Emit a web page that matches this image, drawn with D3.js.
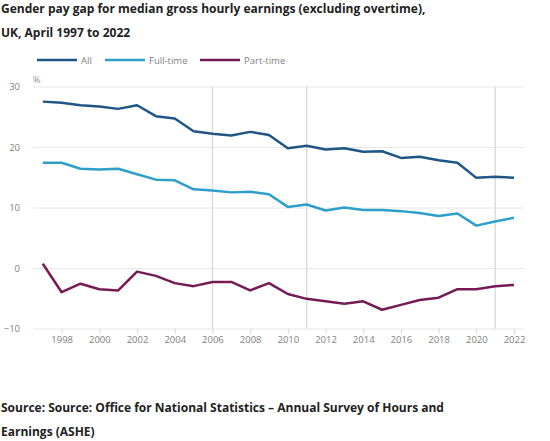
<!DOCTYPE html>
<html>
<head>
<meta charset="utf-8">
<script src="https://cdn.jsdelivr.net/npm/d3@7"></script>
<style>
  html, body { margin: 0; padding: 0; background: #fff; }
  svg { display: block; font-family: "Open Sans", sans-serif; }
</style>
</head>
<body>
<svg id="chart" width="550" height="441"></svg>
<script>
const years = d3.range(1997, 2023);
const allValues = [27.5, 27.3, 26.9, 26.7, 26.3, 26.9, 25.1, 24.7, 22.6, 22.2, 21.9, 22.5, 22.0, 19.8, 20.2, 19.6, 19.8, 19.2, 19.3, 18.2, 18.4, 17.8, 17.4, 14.9, 15.1, 14.9];
const fullTimeValues = [17.4, 17.4, 16.4, 16.3, 16.4, 15.5, 14.6, 14.5, 13.0, 12.8, 12.5, 12.6, 12.2, 10.1, 10.5, 9.5, 10.0, 9.6, 9.6, 9.4, 9.1, 8.6, 9.0, 7.0, 7.7, 8.3];
const partTimeValues = [0.7, -4.0, -2.6, -3.5, -3.7, -0.6, -1.3, -2.5, -3.0, -2.3, -2.3, -3.7, -2.5, -4.3, -5.1, -5.5, -5.9, -5.5, -6.9, -6.1, -5.3, -4.9, -3.5, -3.5, -3.0, -2.8];
const seriesNames = ["All", "Full-time", "Part-time"];
const seriesColors = ["#1f5685", "#2d9fc9", "#741a55"];
const yTicks = [-10, 0, 10, 20, 30];
const xTicks = d3.range(1998, 2023, 2);
const markerYears = [2006, 2011, 2021];
const titleLines = ["Gender pay gap for median gross hourly earnings (excluding overtime),", "UK, April 1997 to 2022"];
const sourceLines = ["Source: Source: Office for National Statistics – Annual Survey of Hours and", "Earnings (ASHE)"];

const seriesData = [allValues, fullTimeValues, partTimeValues];
const svg = d3.select("#chart");

const x = d3.scaleLinear().domain([1997, 2022]).range([42.8, 514]);
const y = d3.scaleLinear().domain([-10, 30]).range([328.5, 86.5]);
const gridLeft = 33, gridRight = 524;

// Title
svg.append("g").selectAll("text").data(titleLines).join("text")
  .attr("x", 1).attr("y", (d, i) => 13 + i * 24)
  .attr("font-size", 12).attr("font-weight", 700).attr("fill", "#222")
  .text(d => d);

// Legend
const legendX = [37, 105, 200];
const lg = svg.append("g").selectAll("g").data(seriesNames).join("g")
  .attr("transform", (d, i) => `translate(${legendX[i]},60)`);
lg.append("line").attr("x1", 0).attr("x2", 40).attr("y1", 0).attr("y2", 0)
  .attr("stroke", (d, i) => seriesColors[i]).attr("stroke-width", 2.5);
lg.append("text").attr("x", 44).attr("y", 3.5).attr("font-size", 9.5).attr("fill", "#808080").text(d => d);

// Y gridlines and labels
const yAxis = d3.axisLeft(y).tickValues(yTicks).tickSize(-(gridRight - gridLeft)).tickPadding(13);
const yg = svg.append("g").attr("transform", `translate(${gridLeft},0)`).call(yAxis);
yg.select(".domain").remove();
yg.selectAll(".tick line").attr("stroke", "#e6e6e6").attr("stroke-width", 1);
yg.selectAll(".tick text").attr("font-size", 9.5).attr("fill", "#808080").attr("font-family", "Open Sans, sans-serif");

svg.append("text").attr("x", 33).attr("y", 83).attr("font-size", 9).attr("fill", "#909090").text("%");

// Vertical marker lines
svg.append("g").selectAll("line").data(markerYears).join("line")
  .attr("x1", d => x(d)).attr("x2", d => x(d))
  .attr("y1", y(30)).attr("y2", y(-10))
  .attr("stroke", "#dcdcdc").attr("stroke-width", 1.5);

// X axis
const xAxis = d3.axisBottom(x).tickValues(xTicks).tickFormat(d3.format("d")).tickSize(5).tickPadding(3);
const xg = svg.append("g").attr("transform", `translate(0,${y(-10)})`).call(xAxis);
xg.select(".domain").remove();
xg.selectAll(".tick line").attr("stroke", "#d6d6d6");
xg.selectAll(".tick text").attr("font-size", 9.5).attr("fill", "#808080").attr("font-family", "Open Sans, sans-serif");

// Lines
const line = d3.line().x((d, i) => x(years[i])).y(d => y(d));
svg.append("g").selectAll("path").data(seriesData).join("path")
  .attr("d", d => line(d))
  .attr("fill", "none")
  .attr("stroke", (d, i) => seriesColors[i])
  .attr("stroke-width", 2.5)
  .attr("stroke-linejoin", "round");

// Source
svg.append("g").selectAll("text").data(sourceLines).join("text")
  .attr("x", 1).attr("y", (d, i) => 412 + i * 24)
  .attr("font-size", 12).attr("font-weight", 700).attr("fill", "#222")
  .text(d => d);
</script>
</body>
</html>
